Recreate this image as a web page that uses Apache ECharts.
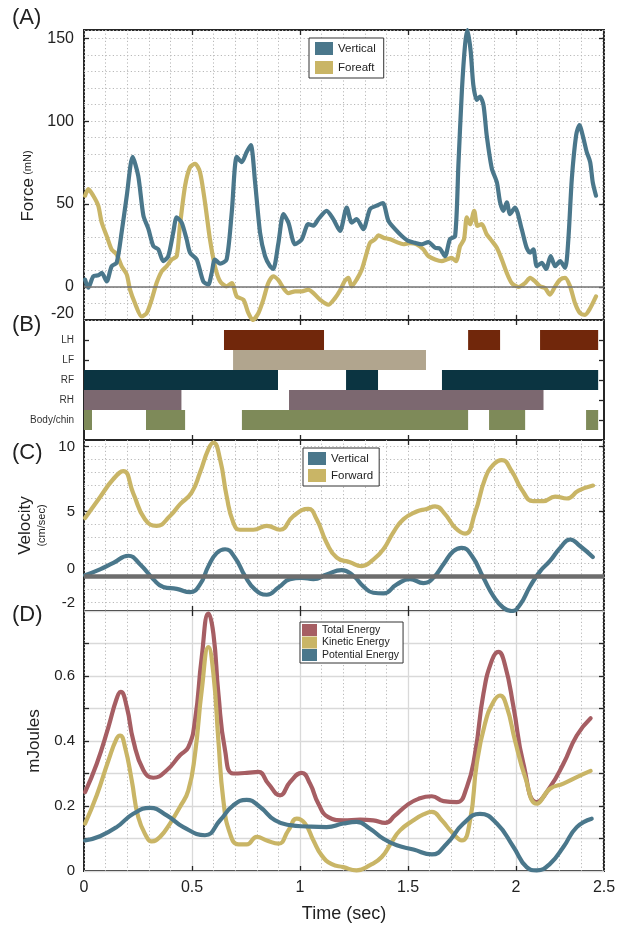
<!DOCTYPE html>
<html>
<head>
<meta charset="utf-8">
<script src="https://cdn.jsdelivr.net/npm/echarts@6/dist/echarts.min.js"></script>
<style>
  html, body { margin: 0; padding: 0; background: #ffffff; }
  #chart { width: 626px; height: 930px; }
</style>
</head>
<body>
<div id="chart"></div>
<script>
// ---------- shared time axis (sec) ----------
const T_MAX = 2.407;
const timeMajor = [0.5, 1, 1.5, 2];

// ---------- (A) force, mN ----------
const forceVerticalT = [0.005,0.02,0.043,0.066,0.082,0.105,0.128,0.151,0.174,0.198,0.225,0.251,0.275,0.298,0.321,0.344,0.367,0.39,0.413,0.429,0.452,0.475,0.491,0.522,0.552,0.575,0.591,0.606,0.63,0.66,0.684,0.707,0.73,0.753,0.772,0.792,0.815,0.838,0.861,0.876,0.9,0.923,0.946,0.977,1.008,1.038,1.062,1.085,1.123,1.154,1.185,1.216,1.239,1.262,1.293,1.324,1.355,1.383,1.409,1.44,1.471,1.501,1.532,1.563,1.594,1.625,1.648,1.671,1.694,1.718,1.733,1.749,1.764,1.775,1.79,1.802,1.818,1.833,1.849,1.864,1.888,1.911,1.926,1.941,1.957,1.972,1.995,2.026,2.049,2.065,2.08,2.096,2.119,2.139,2.16,2.181,2.204,2.227,2.242,2.258,2.278,2.293,2.312,2.327,2.343,2.355,2.37];
const forceVertical = [4.4,-0.5,6.4,7,8.4,3.3,12.5,14.5,32.7,55,78.4,67,43,35,24.6,22.6,15.5,18.5,32.7,41.9,38.8,28.7,20.6,16.5,3.3,1.3,8.4,16.5,14,16.5,45,78.4,75.3,81.4,85.5,63,32.7,18.5,12.5,10.8,26.6,43.9,38.8,25.7,28.7,37.8,37,40.9,45.9,40.9,33.8,47.9,38.8,40.9,34.8,47,49,50.6,39.8,34.8,30.7,27.7,26.6,25.7,27,23.6,23,18.5,28.7,30.7,73.3,117.9,146.3,155,142,122,112.8,114.8,109.8,91.5,71.3,63.2,51,45.9,51,43.9,47.9,34.8,23.6,20.6,22.6,12.5,14.5,10.8,18.5,12.5,15.5,11.4,28.7,65.2,91.5,97.6,89.5,81.4,75.3,63.1,55];
const forceForeaftT = [0.005,0.02,0.043,0.066,0.082,0.105,0.128,0.151,0.174,0.198,0.213,0.236,0.267,0.29,0.313,0.336,0.36,0.383,0.406,0.429,0.444,0.468,0.491,0.514,0.537,0.56,0.583,0.606,0.63,0.66,0.684,0.707,0.738,0.761,0.781,0.807,0.83,0.853,0.876,0.9,0.923,0.946,0.977,1.008,1.038,1.062,1.093,1.131,1.162,1.185,1.208,1.224,1.239,1.262,1.286,1.309,1.324,1.347,1.363,1.386,1.417,1.448,1.478,1.509,1.54,1.571,1.594,1.625,1.656,1.679,1.702,1.722,1.741,1.759,1.772,1.787,1.806,1.821,1.841,1.864,1.888,1.911,1.934,1.957,1.98,2.011,2.042,2.065,2.088,2.111,2.134,2.157,2.181,2.204,2.227,2.25,2.273,2.296,2.319,2.343,2.37];
const forceForeaft = [55,59,55,49,38.8,30.7,22.6,19.6,12.5,7.4,-1.7,-9.9,-17.9,-15.9,-7.8,2.3,9.4,12.5,16.5,18.5,36.8,61.1,72.3,74.3,69.2,51,28.7,12.5,3.3,0.3,2.3,-5.8,-7.8,-15.9,-20,-15.9,-7.8,2.3,6.4,4,-0.7,-3.8,-2.7,-2.7,-1.7,-3.8,-7.8,-10.8,-6.8,-2.2,3.8,5.4,0.3,4.4,10.5,20.6,26.6,28.7,31.1,29.7,28.7,27,25.7,26.3,25.7,22.6,18.5,16.5,15.5,16.5,17.5,15.5,24.6,28.7,41.9,37.8,45.9,36.8,37.8,31.7,27.7,23.6,16.5,8.4,2.3,-0.1,2.3,5.4,3.3,0.3,-0.7,-4.7,0.3,4.4,5.4,0.3,-9.9,-15.9,-16.9,-12.9,-5.8];
const forceLabels = [-20, 0, 50, 100, 150];
const forceTicks = [0, 50, 100, 150];

// ---------- (B) contact phases (start, end in sec) ----------
const contactRows = ['Body/chin', 'RH', 'RF', 'LF', 'LH'];
const contactBodyChin = [[0, 0.037], [0.287, 0.468], [0.731, 1.778], [1.875, 2.042], [2.324, 2.38]];
const contactRH = [[0, 0.451], [0.949, 2.127]];
const contactRF = [[0, 0.898], [1.213, 1.361], [1.657, 2.38]];
const contactLF = [[0.69, 1.583]];
const contactLH = [[0.648, 1.111], [1.778, 1.926], [2.111, 2.38]];

// ---------- (C) velocity, cm/sec ----------
const velVerticalT = [0.005,0.074,0.136,0.205,0.259,0.321,0.367,0.429,0.491,0.537,0.576,0.614,0.653,0.699,0.745,0.792,0.846,0.9,0.954,1.008,1.062,1.123,1.193,1.247,1.293,1.339,1.386,1.448,1.509,1.571,1.617,1.664,1.71,1.749,1.795,1.849,1.895,1.941,1.98,2.019,2.065,2.111,2.157,2.204,2.25,2.296,2.355];
const velVertical = [0.1,0.55,1.05,1.6,0.95,-0.2,-0.8,-0.95,-1.2,-0.6,0.8,1.8,2.1,1.45,0.05,-1.0,-1.4,-0.85,-0.2,-0.1,-0.2,0.15,0.5,0.05,-0.75,-1.25,-1.3,-0.6,-0.2,-0.5,-0.1,0.95,1.95,2.2,1.6,-0.1,-1.5,-2.4,-2.65,-2.15,-0.75,0.4,1.2,2.2,2.85,2.35,1.5];
const velForwardT = [0.005,0.074,0.136,0.182,0.228,0.282,0.336,0.398,0.444,0.498,0.537,0.576,0.599,0.63,0.66,0.691,0.722,0.784,0.846,0.907,0.969,1.038,1.077,1.123,1.17,1.231,1.285,1.339,1.386,1.432,1.478,1.54,1.586,1.625,1.671,1.718,1.764,1.81,1.856,1.895,1.934,1.98,2.026,2.08,2.126,2.181,2.235,2.289,2.356];
const velForward = [4.5,6.1,7.5,8.1,6.4,4.4,3.9,4.65,5.55,6.45,8,9.8,10.3,9,6.2,4.15,3.6,3.6,3.9,3.6,4.65,5.2,4.4,2.6,1.45,1.1,0.8,1.3,2.1,3.4,4.4,5.0,5.2,5.4,4.8,3.75,3.3,4.9,7.5,8.6,8.95,8.1,6.7,5.8,5.8,6.15,6.0,6.6,7.0];
const velLabels = [-2, 0, 5, 10];
const velTicks = [0, 5, 10];
const velGrid = [-2, -1, 0, 1, 2, 3, 4, 5, 6, 7, 8, 9, 10];

// ---------- (D) energy, mJoules ----------
const eTotalT = [0.005,0.059,0.113,0.151,0.17,0.198,0.228,0.275,0.321,0.383,0.444,0.483,0.514,0.545,0.576,0.599,0.622,0.653,0.691,0.753,0.807,0.853,0.907,0.954,1.008,1.046,1.085,1.131,1.2,1.278,1.339,1.394,1.44,1.494,1.548,1.61,1.664,1.725,1.772,1.81,1.849,1.888,1.918,1.949,1.988,2.034,2.096,2.157,2.219,2.281,2.345];
const eTotal = [0.243,0.33,0.443,0.53,0.551,0.505,0.402,0.31,0.287,0.31,0.356,0.381,0.464,0.658,0.792,0.73,0.546,0.371,0.3,0.302,0.305,0.269,0.233,0.274,0.302,0.269,0.207,0.166,0.156,0.158,0.156,0.148,0.171,0.202,0.222,0.23,0.215,0.212,0.258,0.361,0.546,0.648,0.674,0.633,0.505,0.33,0.212,0.258,0.33,0.417,0.47];
const eKineticT = [0.005,0.059,0.113,0.151,0.167,0.19,0.221,0.251,0.29,0.313,0.352,0.398,0.444,0.483,0.514,0.545,0.576,0.599,0.622,0.645,0.676,0.715,0.753,0.8,0.846,0.9,0.946,0.985,1.023,1.062,1.1,1.147,1.2,1.262,1.324,1.378,1.424,1.463,1.525,1.571,1.61,1.656,1.702,1.749,1.787,1.818,1.856,1.895,1.926,1.957,1.995,2.042,2.096,2.157,2.219,2.281,2.345];
const eKinetic = [0.146,0.233,0.34,0.407,0.417,0.381,0.279,0.166,0.105,0.091,0.105,0.146,0.197,0.248,0.361,0.556,0.689,0.607,0.402,0.218,0.115,0.082,0.082,0.105,0.094,0.084,0.125,0.161,0.146,0.094,0.048,0.021,0.012,0.002,0.018,0.043,0.089,0.125,0.156,0.174,0.182,0.156,0.12,0.094,0.156,0.33,0.453,0.52,0.54,0.505,0.402,0.289,0.207,0.253,0.269,0.289,0.308];
const ePotentialT = [0.005,0.074,0.151,0.228,0.306,0.383,0.46,0.56,0.63,0.691,0.753,0.815,0.884,0.954,1.031,1.123,1.2,1.262,1.324,1.386,1.448,1.525,1.61,1.679,1.756,1.833,1.911,1.988,2.049,2.096,2.157,2.219,2.281,2.35];
const ePotential = [0.094,0.107,0.135,0.176,0.194,0.171,0.135,0.11,0.156,0.202,0.219,0.197,0.156,0.141,0.137,0.135,0.146,0.151,0.13,0.099,0.079,0.066,0.051,0.084,0.146,0.176,0.146,0.074,0.012,0.002,0.022,0.074,0.135,0.161];

// ---------- styles ----------
const FONT = '"Liberation Sans", Arial, Helvetica, sans-serif';
const INK = '#222222';
const FRAME = '#262626';
const C_BLUE = '#4a778b';
const C_GOLD = '#c9b566';
const C_RED = '#a65e63';
const CONTACT_COLORS = ['#7e8a59', '#7c6870', '#0b3441', '#b1a58e', '#71270b'];
const DOTTED = { type: [1.2, 2.4], color: '#b9b9b9', width: 1 };
const SOLID_LIGHT = { type: 'solid', color: '#d9d9d9', width: 1.3 };
const NO_LINE = { show: false, onZero: false };

const pairs = (t, v) => t.map((x, i) => [x, v[i]]);

// grid rectangles: A, B, C, D
const grids = [
  { left: 84, top: 30, width: 520, height: 290 },
  { left: 84, top: 320, width: 520, height: 120 },
  { left: 84, top: 440, width: 520, height: 171 },
  { left: 84, top: 611, width: 520, height: 260 }
].map(g => Object.assign({ show: true, borderColor: FRAME, borderWidth: 2, backgroundColor: 'transparent', outerBoundsMode: 'none', containLabel: false }, g));

const tickStyle = { show: true, inside: true, length: 5, lineStyle: { color: FRAME, width: 1.3 } };

function tickAxis(g, position, range, values, extra) {
  return Object.assign({
    type: 'value', gridIndex: g, position: position,
    min: range[0], max: range[1],
    axisLine: NO_LINE,
    axisLabel: { show: false },
    splitLine: { show: false },
    axisTick: Object.assign({ customValues: values }, tickStyle)
  }, extra || {});
}

// x axes: per panel [main, bottom ticks, top ticks]
const xAxes = [];
const yAxes = [];
const panelX = [
  { split: DOTTED, labels: false },
  { split: null, labels: false },
  { split: DOTTED, labels: false },
  { split: DOTTED, labels: true, major: SOLID_LIGHT }
];
panelX.forEach((p, g) => {
  const main = {
    type: 'value', gridIndex: g, position: 'bottom', min: 0, max: T_MAX, interval: 0.1,
    axisLine: NO_LINE, axisTick: { show: false },
    splitLine: p.split ? { show: true, lineStyle: p.split } : { show: false },
    axisLabel: { show: false }
  };
  if (p.labels) {
    main.axisLabel = {
      show: true, fontSize: 16, color: INK, fontFamily: FONT, margin: 9,
      formatter: v => {
        if (Math.abs(v - T_MAX) < 1e-6) return '2.5';
        const k = Math.round(v * 10);
        return k % 5 === 0 ? String(k / 10) : '';
      }
    };
    main.name = 'Time (sec)';
    main.nameLocation = 'middle';
    main.nameGap = 34;
    main.nameTextStyle = { fontSize: 18, color: INK, fontFamily: FONT };
  }
  xAxes.push(main);
  xAxes.push(tickAxis(g, 'bottom', [0, T_MAX], timeMajor,
    p.major ? { splitLine: { show: true, lineStyle: p.major } } : {}));
  xAxes.push(tickAxis(g, 'top', [0, T_MAX], timeMajor));
});

const labelStyle = { color: INK, fontFamily: FONT };

// (A) force; the lowest label sits a little above its gridline
yAxes.push({
  type: 'value', gridIndex: 0, position: 'left', min: -20, max: 155, interval: 10,
  axisLine: NO_LINE, axisTick: { show: false },
  splitLine: { show: true, lineStyle: DOTTED },
  axisLabel: Object.assign({
    fontSize: 16, margin: 10,
    formatter: v => {
      const r = Math.round(v);
      if (Math.abs(v - r) > 1e-6 || forceLabels.indexOf(r) < 0) return '';
      return r === forceLabels[0] ? '{lift|' + r + '}' : String(r);
    },
    rich: { lift: { fontSize: 16, color: INK, fontFamily: FONT, padding: [0, 0, 13, 0] } }
  }, labelStyle),
  name: '{a|Force} {b|(mN)}', nameLocation: 'middle', nameGap: 40,
  nameTextStyle: { padding: [0, 22, 0, 0], rich: { a: { fontSize: 17, color: INK, fontFamily: FONT }, b: { fontSize: 11, color: INK, fontFamily: FONT } } }
});
yAxes.push(tickAxis(0, 'left', [-20, 155], forceTicks));
yAxes.push(tickAxis(0, 'right', [-20, 155], forceTicks));

// (B) contacts
yAxes.push({
  type: 'value', gridIndex: 1, position: 'left', min: -1, max: 5, interval: 1,
  axisLine: NO_LINE, axisTick: { show: false }, splitLine: { show: false },
  axisLabel: Object.assign({ fontSize: 10, margin: 10, formatter: v => (v >= 0 && v < contactRows.length) ? contactRows[v] : '' }, labelStyle, { color: '#333' })
});
yAxes.push(tickAxis(1, 'left', [-1, 5], [0, 1, 2, 3, 4]));
yAxes.push(tickAxis(1, 'right', [-1, 5], [0, 1, 2, 3, 4]));

// (C) velocity; the zero label sits above the thick zero line
yAxes.push({
  type: 'value', gridIndex: 2, position: 'left', min: -2.65, max: 10.5,
  axisLine: NO_LINE, axisTick: { show: false, customValues: velGrid },
  splitLine: { show: true, lineStyle: DOTTED },
  axisLabel: Object.assign({
    fontSize: 15, margin: 9, customValues: velLabels,
    formatter: v => Math.abs(v) < 1e-9 ? '{lift|0}' : String(v),
    rich: { lift: { fontSize: 15, color: INK, fontFamily: FONT, padding: [0, 0, 16, 0] } }
  }, labelStyle),
  name: '{a|Velocity}\n{b|(cm/sec)}', nameLocation: 'middle', nameGap: 30,
  nameTextStyle: { rich: { a: { fontSize: 17, lineHeight: 19, color: INK, fontFamily: FONT }, b: { fontSize: 11, lineHeight: 14, color: INK, fontFamily: FONT } } }
});
yAxes.push(tickAxis(2, 'left', [-2.65, 10.5], velTicks));
yAxes.push(tickAxis(2, 'right', [-2.65, 10.5], velTicks));

// (D) energy
const energyTicks = [0.1, 0.2, 0.3, 0.4, 0.5, 0.6, 0.7];
yAxes.push({
  type: 'value', gridIndex: 3, position: 'left', min: 0, max: 0.8, interval: 0.1,
  axisLine: NO_LINE, axisTick: { show: false },
  splitLine: { show: true, lineStyle: SOLID_LIGHT },
  axisLabel: Object.assign({
    fontSize: 15, margin: 9,
    formatter: v => { const k = Math.round(v * 10); return (k % 2 === 0 && k <= 6) ? String(k / 10) : ''; }
  }, labelStyle),
  name: 'mJoules', nameLocation: 'middle', nameGap: 37,
  nameTextStyle: { fontSize: 17, color: INK, fontFamily: FONT }
});
yAxes.push(tickAxis(3, 'left', [0, 0.8], energyTicks));
yAxes.push(tickAxis(3, 'right', [0, 0.8], energyTicks));

// contact bars as [row, start, end]
const contactSets = [contactBodyChin, contactRH, contactRF, contactLF, contactLH];
const contactData = [];
contactSets.forEach((set, row) => set.forEach(s => contactData.push([row, s[0], s[1]])));

function renderContact(params, api) {
  const row = api.value(0);
  const p0 = api.coord([api.value(1), row]);
  const p1 = api.coord([api.value(2), row]);
  const h = api.size([0, 1])[1];
  return {
    type: 'rect',
    shape: { x: p0[0], y: p0[1] - h / 2, width: p1[0] - p0[0], height: h },
    style: { fill: CONTACT_COLORS[row] }
  };
}

function lineSeries(name, data, color, axis, smooth, extra) {
  return Object.assign({
    name: name, type: 'line', data: data,
    xAxisIndex: axis * 3, yAxisIndex: axis * 3,
    showSymbol: false, symbol: 'none', smooth: smooth,
    lineStyle: { color: color, width: 4.2, cap: 'round', join: 'round' },
    itemStyle: { color: color },
    clip: true, silent: true
  }, extra || {});
}

function zeroLine(color, width) {
  return {
    silent: true, symbol: ['none', 'none'], animation: false,
    label: { show: false },
    lineStyle: { color: color, width: width, type: 'solid' },
    data: [{ yAxis: 0 }]
  };
}

const series = [
  // (A)
  lineSeries('Foreaft', pairs(forceForeaftT, forceForeaft), C_GOLD, 0, 0.25, { markLine: zeroLine('#737373', 1.6), z: 2 }),
  lineSeries('Vertical', pairs(forceVerticalT, forceVertical), C_BLUE, 0, 0.25, { z: 3 }),
  // (B)
  {
    type: 'custom', name: 'contacts', xAxisIndex: 3, yAxisIndex: 3,
    renderItem: renderContact, encode: { x: [1, 2], y: 0 }, data: contactData, silent: true
  },
  // (C)
  lineSeries('Forward', pairs(velForwardT, velForward), C_GOLD, 2, 0.5, { markLine: zeroLine('#6d6d6d', 4.5), z: 2 }),
  lineSeries('Vertical', pairs(velVerticalT, velVertical), C_BLUE, 2, 0.5, { z: 3 }),
  // (D)
  lineSeries('Total Energy', pairs(eTotalT, eTotal), C_RED, 3, 0.5),
  lineSeries('Kinetic Energy', pairs(eKineticT, eKinetic), C_GOLD, 3, 0.5),
  lineSeries('Potential Energy', pairs(ePotentialT, ePotential), C_BLUE, 3, 0.5)
];

const legendBase = {
  orient: 'vertical', icon: 'rect', selectedMode: false,
  borderColor: '#333', borderWidth: 1, backgroundColor: '#ffffff', borderRadius: 0
};
const legends = [
  Object.assign({}, legendBase, {
    data: ['Vertical', 'Foreaft'], left: 309, top: 38,
    itemWidth: 18, itemHeight: 13, itemGap: 6, padding: [4, 8, 4, 6],
    textStyle: { fontSize: 11.5, color: INK, fontFamily: FONT }
  }),
  Object.assign({}, legendBase, {
    data: ['Vertical', 'Forward'], left: 303, top: 448,
    itemWidth: 18, itemHeight: 13, itemGap: 4, padding: [4, 6, 4, 5],
    textStyle: { fontSize: 11.5, color: INK, fontFamily: FONT }
  }),
  Object.assign({}, legendBase, {
    data: ['Total Energy', 'Kinetic Energy', 'Potential Energy'], left: 300, top: 622,
    itemWidth: 15, itemHeight: 12, itemGap: 0.5, padding: [2, 4, 2, 2],
    textStyle: { fontSize: 10.5, color: INK, fontFamily: FONT }
  })
];

const panelTags = [['(A)', 18], ['(B)', 325], ['(C)', 453], ['(D)', 615]];

const chart = echarts.init(document.getElementById('chart'), null, { renderer: 'canvas' });
chart.setOption({
  animation: false,
  backgroundColor: '#ffffff',
  textStyle: { fontFamily: FONT },
  grid: grids,
  xAxis: xAxes,
  yAxis: yAxes,
  legend: legends,
  series: series,
  graphic: panelTags.map(t => ({
    type: 'text', x: 12, y: t[1], silent: true,
    style: { text: t[0], fontSize: 22, fontFamily: FONT, fill: INK, verticalAlign: 'middle', align: 'left' }
  }))
});
</script>
</body>
</html>
